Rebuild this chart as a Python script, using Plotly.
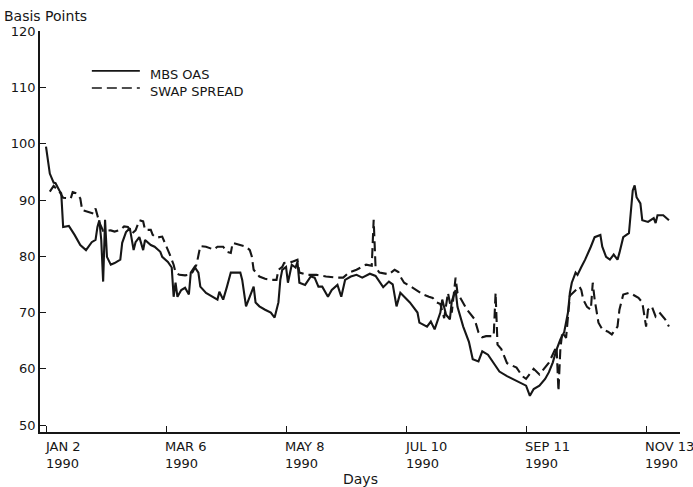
import pandas as pd
import plotly.graph_objects as go

# Daily spreads in basis points, keyed by calendar days after Jan 2, 1990
mbs_day = [0, 2, 4, 5, 7, 8, 9, 12, 15, 18, 21, 24, 26, 27, 28, 29, 30, 31, 32, 34,
           36, 39, 40, 42, 44, 46, 47, 49, 51, 52, 55, 57, 60, 61, 64, 66, 67, 68, 69, 71,
           73, 75, 76, 78, 80, 81, 84, 88, 90, 91, 93, 95, 97, 102, 103, 105, 107, 109, 110, 112,
           115, 118, 120, 122, 123, 124, 126, 127, 129, 131, 132, 133, 136, 139, 141, 143, 145, 148, 150, 153,
           155, 157, 160, 163, 166, 170, 173, 175, 177, 180, 182, 184, 186, 191, 195, 196, 200, 202, 204, 207,
           208, 210, 212, 213, 215, 216, 219, 222, 224, 227, 229, 232, 235, 238, 242, 245, 249, 252, 254, 256,
           259, 262, 264, 266, 268, 270, 272, 274, 275, 276, 278, 279, 281, 283, 286, 288, 291, 292, 294, 296,
           298, 300, 301, 303, 306, 308, 309, 310, 312, 313, 316, 319, 320, 321, 324, 327]
mbs_oas = [99.5, 94.7, 93.1, 93.0, 91.7, 91.2, 85.2, 85.4, 83.8, 82.0, 81.1, 82.5, 82.9, 85.2, 86.4, 82.9, 75.5, 86.5, 79.9, 78.5,
           78.8, 79.4, 82.4, 84.3, 85.0, 81.1, 82.5, 83.4, 81.1, 82.9, 82.0, 81.7, 80.8, 79.9, 79.0, 78.0, 72.8, 75.3, 72.8, 74.0,
           74.4, 73.2, 77.1, 78.1, 77.1, 74.6, 73.5, 72.8, 72.3, 73.7, 72.3, 74.6, 77.1, 77.1, 75.8, 71.1, 72.8, 74.6, 71.8, 71.1,
           70.5, 70.0, 69.1, 71.8, 75.8, 77.6, 78.1, 75.3, 78.5, 78.0, 79.0, 75.3, 74.9, 76.4, 76.2, 74.6, 74.6, 72.8, 74.0, 74.9,
           72.8, 75.8, 76.4, 76.7, 76.2, 76.9, 76.5, 75.5, 74.5, 75.5, 75.0, 71.1, 73.5, 71.8, 70.0, 68.2, 67.5, 68.4, 67.0, 70.0,
           72.3, 69.6, 68.8, 72.0, 74.0, 71.0, 67.5, 64.8, 61.7, 61.3, 63.1, 62.5, 61.1, 59.5, 58.7, 58.2, 57.5, 57.0, 55.2, 56.4,
           57.0, 58.2, 59.4, 61.1, 63.4, 65.2, 66.5, 70.0, 73.5, 75.3, 77.1, 76.7, 78.1, 79.4, 81.7, 83.4, 83.8, 81.7, 79.9, 79.4,
           80.3, 79.4, 80.6, 83.4, 84.1, 91.7, 92.6, 90.5, 89.4, 86.4, 86.1, 86.8, 85.9, 87.3, 87.3, 86.4]

swap_day = [2, 4, 7, 9, 13, 14, 16, 18, 19, 23, 25, 26, 28, 30, 34, 36, 39, 41, 43, 45,
            47, 49, 51, 52, 55, 56, 58, 61, 63, 65, 67, 68, 70, 73, 76, 77, 79, 80, 81, 84,
            88, 90, 93, 95, 97, 98, 102, 105, 107, 108, 109, 111, 112, 115, 118, 121, 122, 124, 125, 129,
            132, 133, 137, 142, 147, 153, 156, 159, 163, 168, 171, 172, 173, 175, 180, 183, 185, 186, 188, 192,
            196, 198, 201, 203, 205, 207, 209, 211, 213, 215, 216, 218, 221, 225, 227, 229, 231, 235, 236, 237,
            239, 242, 247, 250, 252, 256, 259, 264, 267, 268, 269, 270, 271, 273, 275, 278, 280, 281, 282, 284,
            286, 287, 288, 290, 292, 295, 297, 300, 301, 303, 306, 308, 311, 313, 314, 315, 316, 318, 320, 322,
            325, 327]
swap_spread = [91.5, 92.5, 91.5, 90.4, 90.3, 91.4, 91.2, 90.3, 88.2, 87.8, 87.6, 88.5, 86.0, 84.5, 84.6, 84.4, 84.7, 85.3, 85.2, 84.0,
               84.6, 86.4, 86.2, 84.7, 84.7, 83.8, 83.3, 83.5, 82.0, 80.3, 78.5, 77.1, 76.7, 76.6, 76.8, 77.2, 78.5, 80.5, 81.8, 81.7,
               81.2, 81.7, 81.7, 80.8, 80.6, 82.4, 82.0, 81.7, 81.1, 80.0, 77.6, 76.7, 76.4, 76.0, 75.8, 75.8, 77.6, 78.1, 78.8, 79.0,
               79.4, 77.1, 76.7, 76.7, 76.4, 76.2, 76.2, 77.1, 77.6, 78.5, 78.3, 86.5, 78.0, 77.1, 76.8, 77.6, 77.2, 76.4, 75.3, 74.5,
               73.7, 73.2, 72.8, 72.6, 71.8, 71.5, 69.0, 73.5, 70.0, 76.2, 73.5, 72.3, 70.5, 68.8, 66.5, 65.6, 65.8, 65.8, 73.5, 64.3,
               63.5, 61.0, 60.2, 58.7, 58.2, 60.0, 59.0, 61.1, 63.5, 64.0, 56.0, 63.5, 66.5, 65.5, 73.0, 74.0, 74.6, 74.0, 72.3, 71.0,
               70.5, 75.3, 72.3, 68.2, 67.0, 66.6, 66.1, 67.5, 70.5, 73.2, 73.5, 73.2, 72.6, 71.8, 70.0, 67.5, 70.5, 71.1, 69.3, 70.0,
               68.8, 67.5]

tick_dates = ["1990-01-02", "1990-03-06", "1990-05-08", "1990-07-10", "1990-09-11", "1990-11-13"]
tick_text = ["JAN 2<br>1990", "MAR 6<br>1990", "MAY 8<br>1990", "JUL 10<br>1990", "SEP 11<br>1990", "NOV 13<br>1990"]
y_ticks = [50, 60, 70, 80, 90, 100, 110, 120]
series_names = ["MBS OAS", "SWAP SPREAD"]

base = pd.Timestamp("1990-01-02")
mbs_dates = base + pd.to_timedelta(mbs_day, unit="D")
swap_dates = base + pd.to_timedelta(swap_day, unit="D")

INK = "#161616"
TICK_FONT = dict(family="DejaVu Sans, Liberation Sans, sans-serif", size=13, color=INK)
LABEL_FONT = dict(family="DejaVu Sans, Liberation Sans, sans-serif", size=14, color=INK)
DASH = "10px,5px"

fig = go.Figure()
fig.add_trace(go.Scatter(x=mbs_dates, y=mbs_oas, mode="lines", name=series_names[0],
                         line=dict(color=INK, width=2.1), showlegend=False))
fig.add_trace(go.Scatter(x=swap_dates, y=swap_spread, mode="lines", name=series_names[1],
                         line=dict(color=INK, width=2.1, dash=DASH), showlegend=False))

# hand-drawn key in the upper left
key_x0, key_x1, key_tx = 0.081, 0.156, 0.169
for name, ky, dash in [(series_names[0], 0.9005, "solid"), (series_names[1], 0.858, DASH)]:
    fig.add_shape(type="line", xref="paper", yref="paper", x0=key_x0, x1=key_x1, y0=ky, y1=ky,
                  line=dict(color=INK, width=1.6, dash=dash))
    fig.add_annotation(xref="paper", yref="paper", x=key_tx, y=ky - 0.008, text=name,
                       showarrow=False, xanchor="left", yanchor="middle", font=TICK_FONT)

# date labels sit to the right of their tick marks
for d, t in zip(tick_dates, tick_text):
    fig.add_annotation(x=d, xref="x", yref="paper", y=0, yshift=-5, text=t, showarrow=False,
                       xanchor="left", yanchor="top", align="left", xshift=-3, font=TICK_FONT)

fig.add_annotation(xref="paper", yref="paper", x=0.5, y=0, yshift=-37, text="Days",
                   showarrow=False, xanchor="center", yanchor="top", font=LABEL_FONT)
fig.add_annotation(xref="paper", yref="paper", x=0, y=1, xshift=-38, yshift=5, text="Basis Points",
                   showarrow=False, xanchor="left", yanchor="bottom", font=LABEL_FONT)

x_lo = base - pd.Timedelta(days=3.15)
x_hi = base + pd.Timedelta(days=332.8)

fig.update_layout(
    width=693, height=487,
    margin=dict(l=40, r=13, t=31, b=55),
    paper_bgcolor="white", plot_bgcolor="white",
    xaxis=dict(type="date", range=[x_lo, x_hi], tickvals=tick_dates, ticktext=[""] * len(tick_dates),
               ticks="inside", ticklen=6, tickwidth=1.3, tickcolor=INK,
               showline=True, linecolor=INK, linewidth=1.8, showgrid=False, zeroline=False),
    yaxis=dict(range=[48.76, 120.05], tickvals=y_ticks, ticks="inside", ticklen=6, tickwidth=1.3,
               tickcolor=INK, showline=True, linecolor=INK, linewidth=1.8, showgrid=False,
               zeroline=False, tickfont=TICK_FONT),
)

fig.write_html("out.html")
